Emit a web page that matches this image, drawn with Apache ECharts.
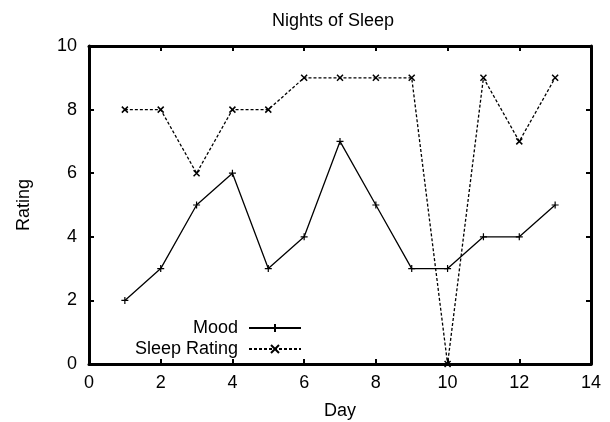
<!DOCTYPE html>
<html>
<head>
<meta charset="utf-8">
<script src="https://cdn.jsdelivr.net/npm/echarts@6/dist/echarts.min.js"></script>
<style>
  html, body { margin: 0; padding: 0; background: #fff; }
  #chart { width: 610px; height: 422px; }
</style>
</head>
<body>
<div id="chart"></div>
<script>
// data
const days = [1, 2, 3, 4, 5, 6, 7, 8, 9, 10, 11, 12, 13]
const mood = [2, 3, 5, 6, 3, 4, 7, 5, 3, 3, 4, 4, 5]
const sleepRating = [8, 8, 6, 8, 8, 9, 9, 9, 9, 0, 9, 7, 9]

const plusIcon = 'path://M0,5L10,5M5,0L5,10'
const crossIcon = 'path://M0,0L10,10M10,0L0,10'
const font = 'Liberation Sans, Arial, sans-serif'
const fs = 18

const chart = echarts.init(document.getElementById('chart'))

const axisBase = {
  axisLine: { onZero: false, lineStyle: { color: '#000', width: 3 } },
  axisTick: { inside: true, length: 5, lineStyle: { color: '#000', width: 2 } },
  splitLine: { show: false }
}

chart.setOption({
  animation: false,
  textStyle: { fontFamily: font },
  title: {
    text: 'Nights of Sleep',
    left: 328,
    textAlign: 'center',
    top: 7,
    textStyle: { fontSize: fs, fontWeight: 'normal', color: '#000', fontFamily: font }
  },
  legend: {
    orient: 'vertical',
    right: 303,
    top: 314,
    align: 'right',
    itemWidth: 52,
    itemHeight: 10,
    itemGap: 3,
    textStyle: { fontSize: fs, color: '#000', fontFamily: font, padding: [0, 6, 0, 0] },
    data: ['Mood', 'Sleep Rating']
  },
  grid: { left: 89, right: 19, top: 46, bottom: 58, outerBoundsMode: 'none' },
  xAxis: [
    Object.assign({}, axisBase, {
      type: 'value', min: 0, max: 14, interval: 2,
      name: 'Day', nameLocation: 'middle', nameGap: 38,
      nameTextStyle: { fontSize: fs, color: '#000' },
      axisLabel: { fontSize: fs, color: '#000', margin: 10 }
    }),
    Object.assign({}, axisBase, {
      type: 'value', min: 0, max: 14, interval: 2, position: 'top',
      axisLabel: { show: false }
    })
  ],
  yAxis: [
    Object.assign({}, axisBase, {
      type: 'value', min: 0, max: 10, interval: 2,
      name: 'Rating', nameLocation: 'middle', nameGap: 56,
      nameTextStyle: { fontSize: fs, color: '#000' },
      axisLabel: { fontSize: fs, color: '#000', margin: 12 }
    }),
    Object.assign({}, axisBase, {
      type: 'value', min: 0, max: 10, interval: 2, position: 'right',
      axisLabel: { show: false }
    })
  ],
  series: [
    {
      name: 'Mood',
      type: 'line',
      data: days.map((d, i) => [d, mood[i]]),
      symbol: plusIcon,
      symbolSize: 7,
      showAllSymbol: true,
      lineStyle: { color: '#000', width: 1.3, type: 'solid' },
      itemStyle: { color: '#000', borderColor: '#000', borderWidth: 1.2 }
    },
    {
      name: 'Sleep Rating',
      type: 'line',
      data: days.map((d, i) => [d, sleepRating[i]]),
      symbol: crossIcon,
      symbolSize: 6,
      showAllSymbol: true,
      lineStyle: { color: '#000', width: 1.3, type: [3, 2] },
      itemStyle: { color: '#000', borderColor: '#000', borderWidth: 1.5 }
    }
  ]
})
</script>
</body>
</html>
